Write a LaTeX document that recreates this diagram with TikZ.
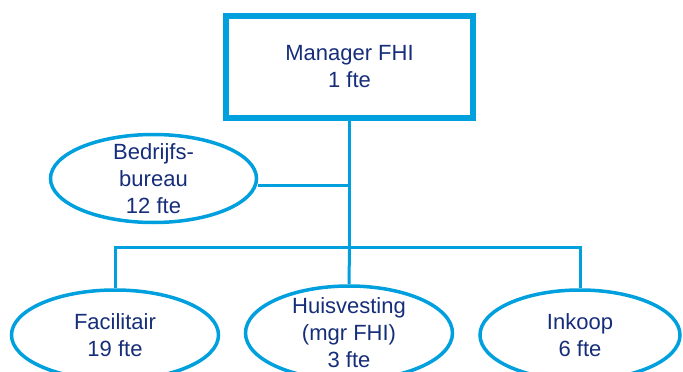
\documentclass[tikz,border=0pt]{standalone}
\usepackage{xcolor}
\usepackage{fontspec}
\setmainfont{Liberation Sans}
\usepackage{tikz}
\usetikzlibrary{shapes.geometric}

\definecolor{fhiblue}{RGB}{0,160,222}
\definecolor{fhitext}{RGB}{22,46,122}

\tikzset{
  unit/.style={ellipse,line width=3.5pt,inner xsep=0pt,inner ysep=-12pt,
               minimum width=207pt,minimum height=90pt},
  link/.style={draw=fhiblue,line width=3pt}
}

\begin{document}
\begin{tikzpicture}[x=1pt,y=-1pt]
	\useasboundingbox (0,0) rectangle (683,372);

	\begin{scope}[every node/.style={draw=fhiblue,text=fhitext,align=center,
	              font=\fontsize{22}{27}\selectfont}]
	    \node[rectangle,line width=6.5pt,minimum width=247pt,minimum height=102pt] (mgr) at (349.5,67) {Manager FHI\\1 fte};
	    \node[unit,minimum height=88pt,minimum width=206pt] (bb) at (153.5,178.5) {Bedrijfs-\\bureau\\12 fte};
	    \node[unit] (fac) at (115,335) {Facilitair\\19 fte};
	    \node[unit,minimum height=94pt] (huis) at (349,333) {Huisvesting\\(mgr FHI)\\3 fte};
	    \node[unit,minimum width=200pt] (ink) at (580,335) {Inkoop\\6 fte};
	\end{scope}

	\coordinate (bar) at (349.5,247);
	\coordinate (bbjoin) at ([yshift=-6.5pt]bb.east);

	\begin{scope}[every path/.style={link}]
	    \path (mgr.south) -- (mgr.south |- bar);
	    \path (bbjoin) -- (bbjoin -| mgr.south);
	    \path (fac.north) |- (bar) -| (ink.north);
	    \path (bar) -- (huis.north);
	\end{scope}
\end{tikzpicture}
\end{document}
